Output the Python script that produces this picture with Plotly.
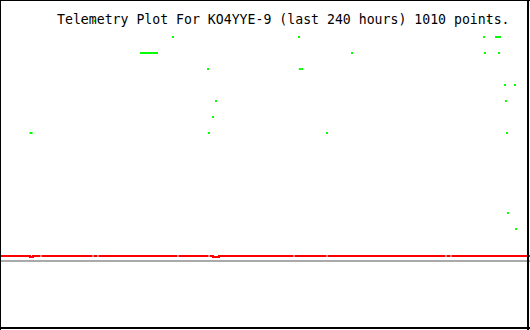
import plotly.graph_objects as go

# ---- data (hours since start of 240 h window, telemetry value) ----
green_hours = [37.1, 43.0, 221.0,
               78.3, 135.4, 219.2, 224.6, 225.0, 225.4, 226.0, 226.4,
               63.8, 64.5, 65.2, 65.9, 66.6, 67.3, 68.0, 68.7, 69.4, 70.1, 70.8, 71.1,
               159.4, 219.6, 226.0,
               94.2, 135.8, 136.8,
               228.7, 233.2,
               97.8, 229.1,
               96.5,
               13.8, 14.3, 94.6, 148.1, 229.6,
               230.0, 233.7]
green_vals = [19, 19, 19,
              18, 18, 18, 18, 18, 18, 18, 18,
              17, 17, 17, 17, 17, 17, 17, 17, 17, 17, 17, 17,
              17, 17, 17,
              16, 16, 16,
              15, 15,
              14, 14,
              13,
              12, 12, 12, 12, 12,
              7, 6]

red_hours = [0, 13.58, 14.94, 18.34, None, 18.79, 41.89, None, 42.34, 44.15, None,
             44.60, 80.38, None, 80.83, 94.42, None, 94.87, 96.45, 99.17, 132.91, None,
             133.36, 147.85, None, 148.30, 201.74, None, 202.19, 204.0, None, 204.45, 240]
red_vals = [4.3125, 4.25, 4.3125, 4.3125, None, 4.3125, 4.3125, None, 4.3125, 4.3125, None,
            4.3125, 4.3125, None, 4.3125, 4.3125, None, 4.3125, 4.25, 4.3125, 4.3125, None,
            4.3125, 4.3125, None, 4.3125, 4.3125, None, 4.3125, 4.3125, None, 4.3125, 4.3125]

gray_hours = [0, 240]
gray_vals = [4.0, 4.0]

title_text = "Telemetry Plot For KO4YYE-9 (last 240 hours) 1010 points."

W, H = 530, 330

fig = go.Figure()
fig.add_trace(go.Scatter(x=gray_hours, y=gray_vals, mode="lines",
                         line=dict(color="#aaaaaa", width=2), hoverinfo="skip"))
fig.add_trace(go.Scatter(x=red_hours, y=red_vals, mode="lines",
                         line=dict(color="#ff0000", width=2, shape="hv"),
                         connectgaps=False, hoverinfo="skip"))
fig.add_trace(go.Scatter(x=green_hours, y=green_vals, mode="markers",
                         marker=dict(color="#00ff00", symbol="square", size=2,
                                     line=dict(width=0)), hoverinfo="skip"))

fig.add_annotation(text=title_text, xref="paper", yref="paper",
                   x=283.5 / W, y=1 - 19 / H, xanchor="center", yanchor="middle",
                   showarrow=False,
                   font=dict(family="DejaVu Sans Mono", size=13.2, color="black"))

def px_line(x0, y0, x1, y1, w):
    return dict(type="line", xref="paper", yref="paper",
                x0=x0 / W, y0=1 - y0 / H, x1=x1 / W, y1=1 - y1 / H,
                line=dict(color="black", width=w))

fig.update_layout(
    width=W, height=H, margin=dict(l=0, r=0, t=0, b=0, pad=0),
    paper_bgcolor="white", plot_bgcolor="white", showlegend=False,
    xaxis=dict(range=[0, 240], visible=False, showgrid=False, zeroline=False),
    yaxis=dict(range=[-0.3125, 20.3125], visible=False, showgrid=False, zeroline=False),
    shapes=[px_line(0.5, 0, 0.5, H, 1), px_line(0, 0.5, W, 0.5, 1),
            px_line(528, 0, 528, H, 2), px_line(0, 328, W, 328, 2)],
)

fig.write_html("out.html", config={"displayModeBar": False})
